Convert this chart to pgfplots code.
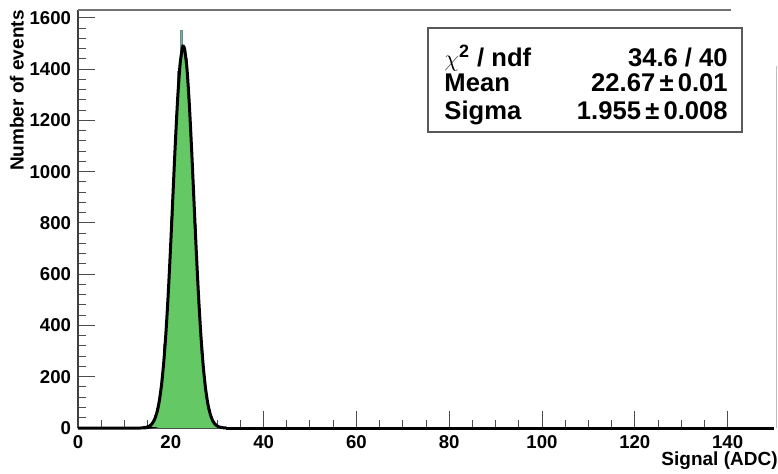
\documentclass[border=0pt]{standalone}
\usepackage{pgfplots}
\pgfplotsset{compat=1.18}
\usepackage{fontspec}
\setmainfont{Liberation Sans}
\definecolor{histgreen}{RGB}{100,200,100}
\definecolor{histline}{RGB}{105,140,135}
\begin{document}
\begin{tikzpicture}
\begin{axis}[
  at={(0,0)}, anchor=south west,
  scale only axis, width=348bp, height=209bp,
  xmin=0, xmax=150, ymin=0, ymax=1631,
  axis x line*=bottom, axis y line*=left,
  axis line style={black!75, line width=0.6bp},
  tick align=inside,
  xtick={0,20,...,140}, ytick={0,200,...,1600},
  minor x tick num=3, minor y tick num=4,
  major tick length=8.5bp, minor tick length=3.8bp,
  tick style={black!70, line width=0.5bp},
  /pgf/number format/assume math mode=true,
  /pgf/number format/1000 sep={},
  ticklabel style={font=\bfseries\fontsize{9.3bp}{11bp}\selectfont},
  xlabel={Signal (ADC)},
  ylabel={Number of events},
  xlabel style={at={(rel axis cs:1,0)}, anchor=north east, inner sep=0pt, xshift=2bp, yshift=-11.5bp, font=\bfseries\fontsize{9.5bp}{11bp}\selectfont},
  ylabel style={at={(rel axis cs:-0.0877,1)}, anchor=east, inner sep=0pt, rotate=0, font=\bfseries\fontsize{9.5bp}{11bp}\selectfont},
  clip=false,
]
% histogram (bin width 0.5, low edges)
\addplot[const plot mark left, fill=histgreen, draw=histline, line width=0.5bp] coordinates {
(14.5,0) (14.5,3) (15,6) (15.5,13) (16,23) (16.5,47) (17,77) (17.5,135) (18,208) (18.5,324)
(19,455) (19.5,638) (20,818) (20.5,1031) (21,1225) (21.5,1392) (22,1552) (22.5,1478)
(23,1440) (23.5,1331) (24,1181) (24.5,977) (25,790) (25.5,589) (26,433) (26.5,291)
(27,196) (27.5,117) (28,73) (28.5,38) (29,22) (29.5,10) (30,5) (30.5,2) (31,0)
};
% Gaussian fit curve
\addplot[black, line width=1.5bp, smooth, tension=0.4] coordinates {
(0,0) (13.5,0) (14,0.8) (15,4.3) (15.5,8.9) (16,17.7) (16.5,33.4) (17,60) (17.5,103) (18,168)
(18.5,261) (19,385) (19.5,542) (20,725) (20.5,924) (21,1120) (21.5,1292) (22,1420)
(22.5,1484) (22.7,1490) (23,1477) (23.5,1399) (24,1261) (24.5,1082) (25,884) (25.5,687)
(26,508) (26.5,358) (27,240) (27.5,153) (28,93) (28.5,54) (29,29.5) (29.5,15.5) (30,7.7)
(30.5,3.7) (31,1.7) (31.5,0.5) (32,0)
};
\addplot[black, line width=1.5bp] coordinates {(32,0) (150,0)};
% frame top and right
\draw[black!55, line width=0.6bp] (rel axis cs:0,1) -- (rel axis cs:0.938,1);
\draw[black!25, line width=0.5bp] (rel axis cs:1.004,0) -- (rel axis cs:1.004,0.866);
% statistics box
\draw[black!65, line width=0.6bp, fill=white] (rel axis cs:0.5029,0.708) rectangle (rel axis cs:0.954,0.957);
\begin{scope}[every node/.style={inner sep=0pt, font=\bfseries\fontsize{12.8bp}{15bp}\selectfont}]
\node[anchor=base west] at (rel axis cs:0.526,0.866) {$\chi^{\mathbf{2}}$ / ndf};
\node[anchor=base east] at (rel axis cs:0.934,0.866) {34.6 / 40};
\node[anchor=base west] at (rel axis cs:0.526,0.806) {Mean};
\node[anchor=base east] at (rel axis cs:0.934,0.806) {22.67\,±\,0.01};
\node[anchor=base west] at (rel axis cs:0.526,0.739) {Sigma};
\node[anchor=base east] at (rel axis cs:0.934,0.739) {1.955\,±\,0.008};
\end{scope}
\end{axis}
\pgfresetboundingbox
\path[use as bounding box] (-39bp,-22.85bp) rectangle (350bp,214bp);
\end{tikzpicture}
\end{document}
